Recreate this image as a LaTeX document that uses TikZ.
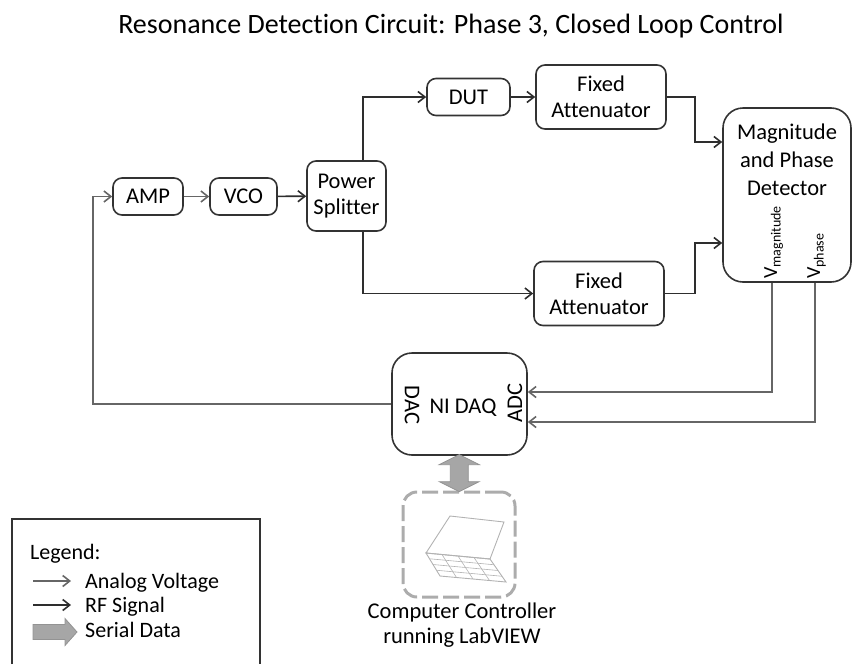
\documentclass[tikz,border=0pt]{standalone}
\usepackage{fontspec}
\setmainfont{Carlito}[Ligatures=NoCommon]
\usetikzlibrary{arrows.meta,calc}

\tikzset{
  blk/.style={draw=black!80, line width=1.6pt, rounded corners=9pt, align=center,
    font=\fontsize{22.5}{26}\selectfont, inner sep=0pt},
  bigblk/.style={blk, rounded corners=20pt},
  txt/.style={font=\fontsize{22.5}{28}\selectfont, align=center, inner sep=0pt},
  lgd/.style={font=\fontsize{22}{25}\selectfont, inner sep=0pt, anchor=base west},
  tip/.style={-{Straight Barb[length=7pt,width=11pt]}},
  rf/.style={draw=black!82, line width=1.6pt, tip},
  av/.style={draw=black!60, line width=1.6pt, tip},
  fat/.style={fill=gray!70, draw=gray!85, line width=0.8pt},
  sketch/.style={draw=gray!60, line width=0.9pt},
}

\begin{document}
\begin{tikzpicture}[x=1pt,y=-1pt]
\useasboundingbox (0,0) rectangle (853,664);

% title
\node[font=\fontsize{28}{32}\selectfont, anchor=base, inner sep=0pt] (title) at (451,33)
  {Resonance Detection Circuit: Phase 3, Closed Loop Control};

% signal chain blocks
\node[blk, minimum width=70pt, minimum height=37pt] (amp) at (148,196.5) {AMP};
\node[blk, minimum width=67pt, minimum height=37pt] (vco) at (243.5,196.5) {VCO};
\node[blk, minimum width=79pt, minimum height=70pt] (split) at (346.5,196) {Power\\Splitter};
\node[blk, minimum width=83pt, minimum height=37pt] (dut) at (468.5,97) {DUT};
\node[blk, minimum width=130pt, minimum height=64pt] (fa1) at (601,97) {Fixed\\Attenuator};
\node[blk, minimum width=130pt, minimum height=64pt] (fa2) at (599,293.5) {Fixed\\Attenuator};

% magnitude and phase detector
\node[bigblk, minimum width=128pt, minimum height=174pt] (mpd) at (787,195) {};
\node[txt] (mpdtxt) at (787,160) {Magnitude\\and Phase\\Detector};
\node[rotate=90, anchor=base west, inner sep=0pt] (vmag) at (777,279)
  {\fontsize{20}{22}\selectfont V\raisebox{-3.5pt}{\fontsize{14}{16}\selectfont magnitude}};
\node[rotate=90, anchor=base west, inner sep=0pt] (vph) at (820,279)
  {\fontsize{20}{22}\selectfont V\raisebox{-3.5pt}{\fontsize{14}{16}\selectfont phase}};

% data acquisition
\node[bigblk, minimum width=135pt, minimum height=102pt] (daq) at (459.5,404) {};
\node[txt, rotate=-90] (dac) at (412,405) {DAC};
\node[txt] (nidaq) at (463,408) {NI DAQ};
\node[txt, rotate=90] (adc) at (515,403) {ADC};

% computer controller
\node[draw=gray!65, line width=3pt, dash pattern=on 16pt off 5pt, rounded corners=14pt,
  minimum width=112pt, minimum height=105pt] (comp) at (459,544.5) {};
\draw[sketch] (450,516) -- (504,522) -- (490,559) -- (426,553) -- cycle;
\draw[sketch] (426,553) -- (490,559) -- (506,582) -- (440,576) -- cycle;
\foreach \t in {0.25,0.5,0.75}{
  \draw[sketch, line width=0.6pt] ($(426,553)!\t!(440,576)$) -- ($(490,559)!\t!(506,582)$);
  \draw[sketch, line width=0.6pt] ($(426,553)!\t!(490,559)$) -- ($(440,576)!\t!(506,582)$);
}
\node[txt, font=\fontsize{22.5}{25}\selectfont] (comptxt) at (462,625) {Computer Controller\\running LabVIEW};

% serial link: fat two-headed arrow between the DAQ and the computer
\coordinate (ser) at ($(daq.south)!0.5!(comp.north)$);
\filldraw[fat] ($(ser)+(0,-18.5)$) -- ($(ser)+(20,-8.5)$) -- ($(ser)+(9,-8.5)$)
  -- ($(ser)+(9,8.5)$) -- ($(ser)+(20,8.5)$) -- ($(ser)+(0,18.5)$)
  -- ($(ser)+(-20,8.5)$) -- ($(ser)+(-9,8.5)$) -- ($(ser)+(-9,-8.5)$)
  -- ($(ser)+(-20,-8.5)$) -- cycle;

% RF paths
\draw[av] (amp) -- (vco);
\draw[rf] (vco) -- (split);
\draw[rf] ([xshift=16.5pt]split.north) |- (dut.west);
\draw[rf] (dut) -- (fa1);
\draw[rf] ([xshift=16.5pt]split.south) |- (fa2.west);
\draw[rf] (fa1.east) -- ++(28,0) |- ([yshift=53pt]mpd.west);
\draw[rf] (fa2.east) -- ++(30,0) |- ([yshift=-48pt]mpd.west);

% analog voltages
\draw[av] ([xshift=-15pt]mpd.south) |- ([yshift=12pt]daq.east);
\draw[av] ([xshift=28pt]mpd.south) |- ([yshift=-18pt]daq.east);
\draw[av] (daq.west) -- ++(-298.5,0) |- (amp.west);

% legend
\draw[black!80, line width=1.2pt] (12,664) -- (12,519) -- (260,519) -- (260,664);
\node[lgd] (lgdtitle) at (30,559) {Legend:};
\draw[av] (33,581) -- (71,581);
\node[lgd] (lgdav) at (85,588) {Analog Voltage};
\draw[rf] (33,605) -- (71,605);
\node[lgd] (lgdrf) at (85,612) {RF Signal};
\filldraw[fat] (33,624.5) -- (65,624.5) -- (65,618.5) -- (77,632) -- (65,645.5)
  -- (65,639.5) -- (33,639.5) -- cycle;
\node[lgd] (lgdsd) at (85,637) {Serial Data};
\end{tikzpicture}
\end{document}
